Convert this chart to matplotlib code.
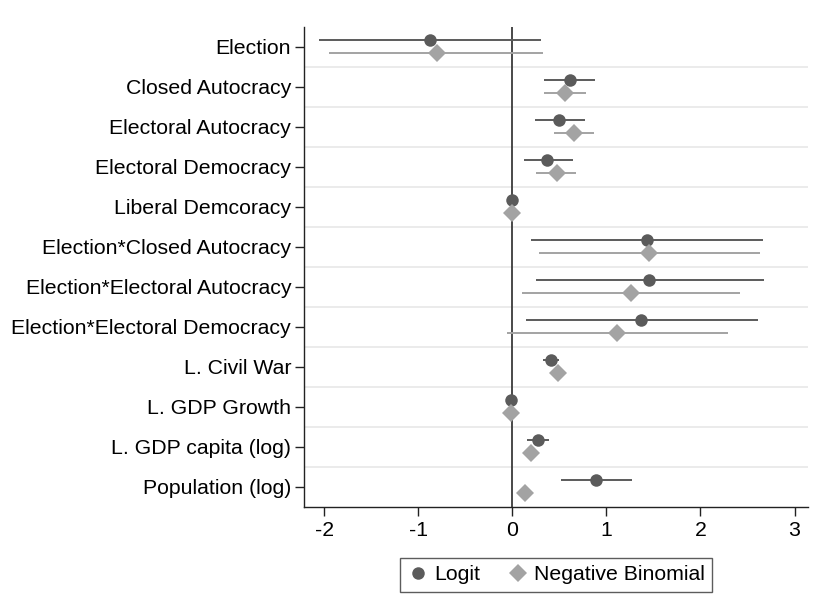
import matplotlib.pyplot as plt
import numpy as np

plt.rcParams["font.family"] = ["Liberation Sans", "DejaVu Sans"]

labels = [
    "Election",
    "Closed Autocracy",
    "Electoral Autocracy",
    "Electoral Democracy",
    "Liberal Demcoracy",
    "Election*Closed Autocracy",
    "Election*Electoral Autocracy",
    "Election*Electoral Democracy",
    "L. Civil War",
    "L. GDP Growth",
    "L. GDP capita (log)",
    "Population (log)",
]

# coefficients and 95% CI
logit_coef = [-0.88, 0.61, 0.50, 0.37, 0.0, 1.43, 1.45, 1.37, 0.41, -0.01, 0.27, 0.89]
logit_lo = [-2.06, 0.34, 0.24, 0.12, 0.0, 0.20, 0.25, 0.14, 0.32, -0.02, 0.16, 0.52]
logit_hi = [0.30, 0.88, 0.77, 0.64, 0.0, 2.66, 2.67, 2.61, 0.50, 0.00, 0.39, 1.27]

nb_coef = [-0.80, 0.56, 0.65, 0.47, 0.0, 1.45, 1.26, 1.11, 0.48, -0.02, 0.20, 0.13]
nb_lo = [-1.95, 0.34, 0.44, 0.25, 0.0, 0.28, 0.10, -0.06, 0.44, -0.03, 0.15, 0.10]
nb_hi = [0.33, 0.78, 0.87, 0.68, 0.0, 2.63, 2.42, 2.29, 0.52, -0.01, 0.24, 0.17]

dark = "#5b5b5b"
light = "#a3a3a3"
fs = 15.3

fig = plt.figure(figsize=(8.2, 5.94), dpi=100)
ax = fig.add_axes([304.3 / 820, 1 - 506.7 / 594, (807.7 - 304.3) / 820, 480 / 594])

y = np.arange(len(labels))
off = 1 / 6

# separators between rows
for b in np.arange(0.5, len(labels) - 0.5, 1):
    ax.axhline(b, color="#e8e8e8", lw=1.2, zorder=0)

ax.axvline(0, color="#3a3a3a", lw=1.3, zorder=1)

ax.hlines(y - off, logit_lo, logit_hi, color=dark, lw=1.4, zorder=2)
ax.hlines(y + off, nb_lo, nb_hi, color=light, lw=1.4, zorder=2)
ax.plot(logit_coef, y - off, "o", color=dark, ms=9, mew=0, label="Logit", zorder=3)
ax.plot(nb_coef, y + off, "D", color=light, ms=8.8, mew=0, label="Negative Binomial", zorder=3)

ax.set_xlim(-2.213, 3.14)
ax.set_ylim(len(labels) - 0.5, -0.5)
ax.set_yticks(y)
ax.set_yticklabels(labels)
ax.set_xticks([-2, -1, 0, 1, 2, 3])
ax.set_xticklabels(["-2", "-1", "0", "1", "2", "3"])
ax.tick_params(axis="both", labelsize=fs, length=6.5, width=1, color="#222222", pad=3)
ax.tick_params(axis="x", pad=4)

for s in ["top", "right"]:
    ax.spines[s].set_visible(False)
for s in ["left", "bottom"]:
    ax.spines[s].set_color("#222222")
    ax.spines[s].set_linewidth(1)

leg = fig.legend(
    loc="lower center",
    bbox_to_anchor=(556 / 820, 0.0),
    ncol=2,
    fontsize=fs,
    frameon=True,
    fancybox=False,
    edgecolor="#333333",
    handletextpad=0.25,
    columnspacing=1.3,
    handlelength=1.0,
    borderpad=0.35,
    borderaxespad=0.1,
)
leg.get_frame().set_linewidth(1)

fig.savefig("out.png", dpi=100)
